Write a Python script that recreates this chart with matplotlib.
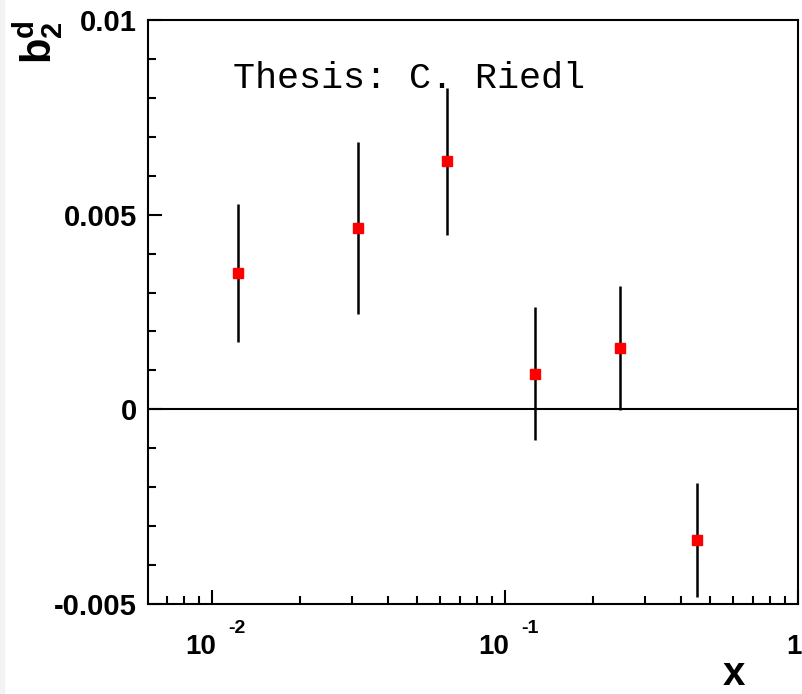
import matplotlib
matplotlib.use("Agg")
from matplotlib import pyplot as plt
from matplotlib.patches import Rectangle
from matplotlib.ticker import LogLocator, NullFormatter, MultipleLocator

# b2^d vs x
x_vals = [0.01225, 0.0316, 0.0634, 0.1266, 0.247, 0.451]
b2d = [0.0035, 0.00466, 0.00637, 0.00091, 0.00157, -0.00336]
b2d_err = [0.00178, 0.0022, 0.00188, 0.00171, 0.00159, 0.00147]

ytick_vals = [-0.005, 0, 0.005, 0.01]
ytick_labels = ['-0.005', '0', '0.005', '0.01']
xtick_vals = [0.01, 0.1, 1]
xtick_base = ['10', '10', '1']
xtick_exp = ['-2', '-1', '']

plt.rcParams['font.family'] = 'Liberation Sans'
plt.rcParams['mathtext.fontset'] = 'custom'
plt.rcParams['mathtext.rm'] = 'Liberation Sans:bold'
plt.rcParams['mathtext.bf'] = 'Liberation Sans:bold'
plt.rcParams['mathtext.it'] = 'Liberation Sans:bold'

fig = plt.figure(figsize=(8.02, 6.94), dpi=100)
# thin grey strip on the left edge of the canvas
fig.patches.append(Rectangle((0, 0), 4 / 802, 1, transform=fig.transFigure,
                             color='#f3f3f3', zorder=0))
ax = fig.add_axes([0.1845, 0.1297, 0.8105, 0.8415])

ax.axhline(0, color='black', linewidth=1.5, zorder=1)
ax.errorbar(x_vals, b2d, yerr=b2d_err, fmt='s', color='red', markersize=7,
            ecolor='black', elinewidth=1.8, capsize=0, zorder=3)

ax.set_xscale('log')
ax.set_xlim(0.00605, 1)
ax.set_ylim(-0.005, 0.01)

ax.set_yticks(ytick_vals)
ax.set_yticklabels(ytick_labels, fontsize=21, fontweight='bold')
ax.yaxis.set_minor_locator(MultipleLocator(0.001))
ax.set_xticks(xtick_vals)
ax.set_xticklabels([])
ax.xaxis.set_minor_locator(LogLocator(base=10, subs=range(2, 10)))
ax.xaxis.set_minor_formatter(NullFormatter())

# ROOT style labels: base and exponent drawn apart
for xv, base, ex in zip(xtick_vals, xtick_base, xtick_exp):
    if ex:
        ax.annotate(base, xy=(xv, 0), xycoords=('data', 'axes fraction'),
                    xytext=(-11, -56), textcoords='offset pixels',
                    ha='center', va='bottom', fontsize=20, fontweight='bold')
        ax.annotate(ex, xy=(xv, 0), xycoords=('data', 'axes fraction'),
                    xytext=(25, -33), textcoords='offset pixels',
                    ha='center', va='bottom', fontsize=14, fontweight='bold')
    else:
        ax.annotate(base, xy=(xv, 0), xycoords=('data', 'axes fraction'),
                    xytext=(4, -56), textcoords='offset pixels',
                    ha='right', va='bottom', fontsize=20, fontweight='bold')

ax.tick_params(which='both', direction='in', top=False, right=False, width=1.5)
ax.tick_params(which='major', length=10)
ax.tick_params(which='minor', length=6)
ax.tick_params(axis='y', pad=8)

for s in ax.spines.values():
    s.set_linewidth(1.5)

ax.set_xlabel('x', fontsize=29, fontweight='bold', ha='right', va='baseline')
ax.xaxis.set_label_coords(0.918, -0.138)
ax.set_ylabel(r'$\mathbf{b_2^d}$', fontsize=30, loc='top')
ax.yaxis.set_label_coords(-0.128, 1.0)

ax.text(0.131, 0.884, 'Thesis: C. Riedl', transform=ax.transAxes,
        family='Liberation Mono', fontsize=26.5, va='baseline')

fig.savefig('out.png', dpi=100)
